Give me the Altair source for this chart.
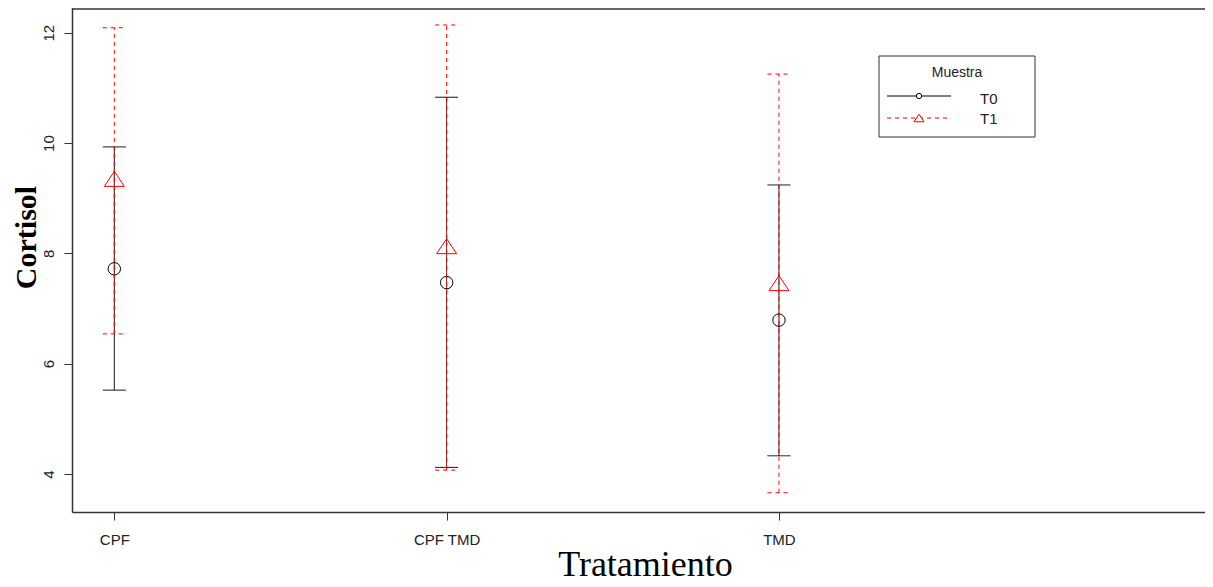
import altair as alt
import pandas as pd

categories = ["CPF", "CPF TMD", "TMD"]
groups = ["T0", "T1"]
t0_mean = [7.72, 7.47, 6.79]
t0_lower = [5.52, 4.12, 4.33]
t0_upper = [9.93, 10.83, 9.24]
t1_mean = [9.35, 8.13, 7.46]
t1_lower = [6.54, 4.07, 3.66]
t1_upper = [12.09, 12.14, 11.25]
y_ticks = [4, 6, 8, 10, 12]
x_ticks = [1, 2, 3]

rows = []
for g, means, los, his in [("T0", t0_mean, t0_lower, t0_upper), ("T1", t1_mean, t1_lower, t1_upper)]:
    for i, c in enumerate(categories):
        rows.append(dict(pos=i + 1, cat=c, grp=g, mean=means[i], lo=los[i], hi=his[i]))
df = pd.DataFrame(rows)

W, H = 1133, 504
xscale = alt.Scale(domain=[0.8727, 4.282], nice=False, zero=False)
yscale = alt.Scale(domain=[3.311, 12.448], nice=False, zero=False)

label_expr = "[" + ",".join(f"'{c}'" for c in categories) + "][datum.value - 1]"

x_axis = alt.Axis(
    values=x_ticks, labelExpr=label_expr, title="Tratamiento", grid=False,
    tickSize=8, labelPadding=12, labelFontSize=15, labelFont="Liberation Sans",
    labelColor="#222", labelBaseline="top",
    titleFont="Liberation Serif", titleFontSize=36, titleFontWeight="normal",
    titleColor="black", titleX=573, titleY=63, titleBaseline="alphabetic", titleAlign="center",
)
y_axis = alt.Axis(
    values=y_ticks, title="Cortisol", grid=False, tickSize=8, labelPadding=11,
    labelAngle=270, labelAlign="center", labelBaseline="alphabetic",
    labelFontSize=15, labelFont="Liberation Sans", labelColor="#222",
    titleFont="Liberation Serif", titleFontSize=30, titleFontWeight="bold",
    titleColor="black", titleAngle=270, titleX=-37, titleY=229,
    titleBaseline="alphabetic", titleAlign="center",
)


def X(field="pos"):
    return alt.X(f"{field}:Q", scale=xscale, axis=x_axis)


def Y(field):
    return alt.Y(f"{field}:Q", scale=yscale, axis=y_axis)


styles = {
    "T0": dict(color="black", dash=[1, 0], shape="circle", size=154),
    "T1": dict(color="#FF0000", dash=[4, 4], shape="M0,-0.75L1,0.75L-1,0.75Z", size=400),
}

layers = []
base = alt.Chart(df)
for g in groups:
    s = styles[g]
    b = base.transform_filter(alt.datum.grp == g)
    layers.append(
        b.mark_rule(color=s["color"], strokeWidth=1, strokeDash=s["dash"]).encode(
            x=X(), y=Y("lo"), y2="hi:Q")
    )
    for f in ["lo", "hi"]:
        layers.append(
            b.mark_rule(color=s["color"], strokeWidth=1, strokeDash=s["dash"],
                        xOffset=-11.5, x2Offset=11.5).encode(
                x=X(), x2="pos:Q", y=Y(f))
        )
    layers.append(
        b.mark_point(shape=s["shape"], size=s["size"], filled=False, color=s["color"],
                     strokeWidth=1, opacity=1).encode(x=X(), y=Y("mean"))
    )

one = alt.Chart(pd.DataFrame({"a": [0]}))
# top border
layers.append(one.mark_rule(color="#333", strokeWidth=1.5).encode(
    x=alt.value(0), x2=alt.value(W), y=alt.value(1)))

# legend
layers.append(one.mark_rect(fill="white", stroke="#333", strokeWidth=1).encode(
    x=alt.value(807), x2=alt.value(963), y=alt.value(48), y2=alt.value(129)))
layers.append(one.mark_text(text="Muestra", font="Liberation Sans", fontSize=14,
                            color="#222", align="center", baseline="alphabetic").encode(
    x=alt.value(885), y=alt.value(69)))
leg_rows = {"T0": (88, 96, 28, "circle"), "T1": (110, 116, 100, "M0,-0.75L1,0.75L-1,0.75Z")}
for g in groups:
    s = styles[g]
    ly, lb, sz, shp = leg_rows[g]
    layers.append(one.mark_rule(color=s["color"], strokeWidth=1, strokeDash=s["dash"]).encode(
        x=alt.value(815), x2=alt.value(879), y=alt.value(ly)))
    layers.append(one.mark_point(shape=shp, size=sz, filled=True, fill="white",
                                 stroke=s["color"], strokeWidth=1, opacity=1).encode(
        x=alt.value(847), y=alt.value(ly)))
    layers.append(one.mark_text(text=g, font="Liberation Sans", fontSize=15, color="#222",
                                align="left", baseline="alphabetic").encode(
        x=alt.value(908), y=alt.value(lb)))

chart = alt.layer(*layers).properties(
    width=W, height=H,
    autosize=alt.AutoSizeParams(type="none"),
    padding={"left": 64, "top": 0, "right": 0, "bottom": 74},
).configure_view(stroke=None).configure_axis(
    domainColor="#333", domainWidth=1.5, tickColor="#333", tickWidth=1,
)

chart.save("out.html", embed_options={"renderer": "svg", "actions": False})
